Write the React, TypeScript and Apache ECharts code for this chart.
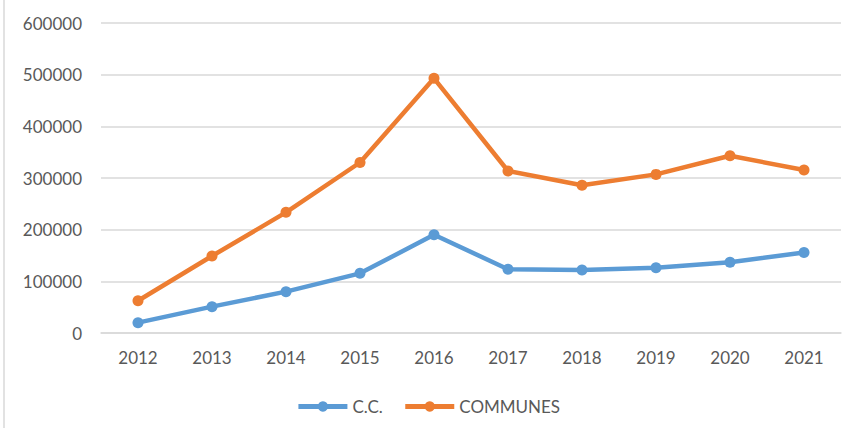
import React, { useEffect, useRef } from "react";
import * as echarts from "echarts";

const years = ["2012", "2013", "2014", "2015", "2016", "2017", "2018", "2019", "2020", "2021"];
const ccValues = [20000, 51000, 80000, 115500, 190000, 123500, 122000, 126500, 137000, 156000];
const communesValues = [62500, 149000, 233500, 330000, 493000, 313500, 286000, 307000, 343000, 315500];
const seriesNames = ["C.C.", "COMMUNES"];
const seriesColors = ["#5B9BD5", "#ED7D31"];

export default function App() {
  const ref = useRef<HTMLDivElement>(null);
  useEffect(() => {
    if (!ref.current) return;
    const chart = echarts.init(ref.current, null, { renderer: "svg" });
    const font = "Lato, 'Open Sans', sans-serif";
    const mk = (name: string, data: number[], color: string) => ({
      name,
      type: "line",
      data,
      symbol: "circle",
      symbolSize: 11,
      lineStyle: { color, width: 4.5 },
      itemStyle: { color, borderWidth: 0 },
      emphasis: { disabled: true },
    });
    chart.setOption({
      animation: false,
      backgroundColor: "#ffffff",
      grid: { left: 101, right: 15, top: 23, bottom: 97, containLabel: false },
      xAxis: {
        type: "category",
        data: years,
        boundaryGap: true,
        axisLine: { show: true, lineStyle: { color: "#D9D9D9", width: 1.5 } },
        axisTick: { show: false },
        axisLabel: { color: "#595959", fontSize: 17, fontFamily: font, margin: 16 },
      },
      yAxis: {
        type: "value",
        min: 0,
        max: 600000,
        interval: 100000,
        axisLine: { show: false },
        axisTick: { show: false },
        splitLine: { lineStyle: { color: "#D9D9D9", width: 1.5 } },
        axisLabel: {
          color: "#595959",
          fontSize: 17,
          fontFamily: font,
          margin: 19,
          formatter: (v: number) => String(v),
        },
      },
      legend: {
        bottom: 10,
        left: "center",
        itemWidth: 49,
        itemHeight: 13,
        itemGap: 20,
        lineStyle: { width: 5 },
        textStyle: { color: "#595959", fontSize: 17, fontFamily: font },
        data: seriesNames,
      },
      graphic: [
        {
          type: "line",
          shape: { x1: 4, y1: 0, x2: 4, y2: 428 },
          style: { stroke: "#D9D9D9", lineWidth: 1.5 },
        },
      ],
      series: [
        mk(seriesNames[0], ccValues, seriesColors[0]),
        mk(seriesNames[1], communesValues, seriesColors[1]),
      ],
    });
    return () => chart.dispose();
  }, []);
  return (
    <div
      ref={ref}
      style={{ position: "fixed", left: 0, top: 0, width: 856, height: 430 }}
    />
  );
}
